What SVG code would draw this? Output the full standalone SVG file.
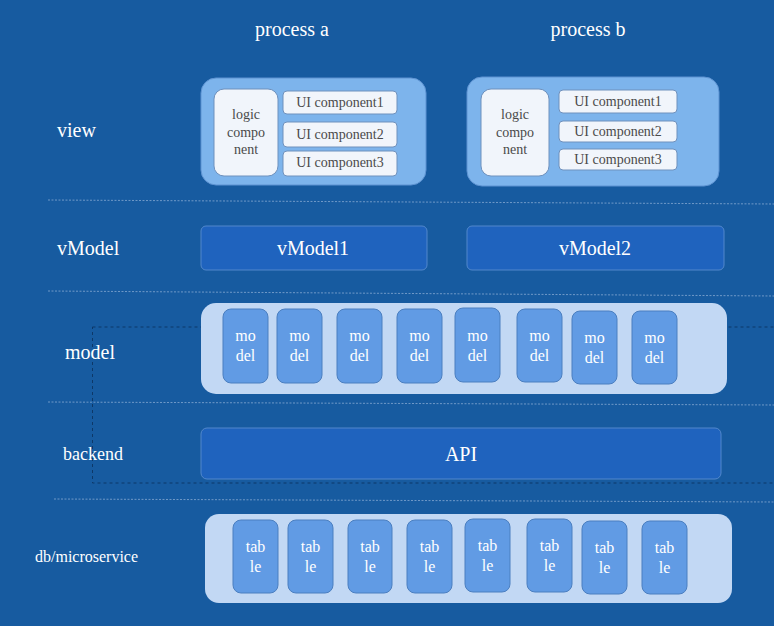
<svg xmlns="http://www.w3.org/2000/svg" width="774" height="626" viewBox="0 0 774 626">
<style>
text{font-family:'Liberation Serif','DejaVu Serif','Times New Roman',serif;}
.w{fill:#ffffff;}
.g{fill:#4a4a4a;font-size:14px;text-anchor:middle;}
.lbl{fill:#ffffff;font-size:20px;}
.sep{stroke:#86a9d2;stroke-width:1;stroke-dasharray:2,1.5;fill:none;opacity:0.8;}
.dk{stroke:#0d3868;stroke-width:1;stroke-dasharray:3,3;fill:none;}
.cont{fill:#7db4ec;stroke:#5e93d2;stroke-width:1;}
.logic{fill:#f1f5fb;stroke:#6f91bd;stroke-width:1;}
.ui{fill:#f1f5fb;stroke:#6f91bd;stroke-width:1;}
.vm{fill:#1f63be;stroke:#5288cc;stroke-width:1;}
.light{fill:#c2d8f4;}
.box{fill:#619be4;stroke:#4b7fc0;stroke-width:1;}
.bt{fill:#ffffff;font-size:16px;text-anchor:middle;}
</style>
<rect x="0" y="0" width="774" height="626" fill="#175ba0"/>
<g font-family="'Liberation Serif', 'DejaVu Serif', serif">

<g id="separators">
<line class="sep" x1="48" y1="200" x2="774" y2="204"/>
<line class="sep" x1="48" y1="291" x2="774" y2="296"/>
<line class="sep" x1="48" y1="402" x2="774" y2="405"/>
<line class="sep" x1="54" y1="499" x2="774" y2="502"/>
<rect class="dk" x="92.5" y="327" width="700" height="156"/>
</g>

<g id="titles">
<text class="lbl" x="292" y="36" text-anchor="middle">process a</text>
<text class="lbl" x="588" y="36" text-anchor="middle">process b</text>
</g>

<g id="row-labels">
<text class="lbl" x="57" y="137">view</text>
<text class="lbl" x="57" y="255">vModel</text>
<text class="lbl" x="65" y="359">model</text>
<text class="w" x="63" y="460" style="font-size:18px">backend</text>
<text class="w" x="35" y="562" style="font-size:16px">db/microservice</text>
</g>

<g id="view-a">
<rect class="cont" x="201" y="78" width="225" height="107" rx="15"/>
<rect class="logic" x="214" y="89" width="64" height="87" rx="10"/>
<text class="g" x="246" y="119">logic</text>
<text class="g" x="246" y="137">compo</text>
<text class="g" x="246" y="154">nent</text>
<rect class="ui" x="283" y="91" width="114" height="23" rx="4"/>
<text class="g" x="340" y="107">UI component1</text>
<rect class="ui" x="283" y="122" width="114" height="25" rx="4"/>
<text class="g" x="340" y="139">UI component2</text>
<rect class="ui" x="283" y="151" width="114" height="25" rx="4"/>
<text class="g" x="340" y="167">UI component3</text>
</g>

<g id="view-b">
<rect class="cont" x="467" y="77" width="252" height="109" rx="15"/>
<rect class="logic" x="481" y="89" width="68" height="87" rx="10"/>
<text class="g" x="515" y="119">logic</text>
<text class="g" x="515" y="137">compo</text>
<text class="g" x="515" y="154">nent</text>
<rect class="ui" x="559" y="90" width="118" height="23" rx="4"/>
<text class="g" x="618" y="106">UI component1</text>
<rect class="ui" x="559" y="121" width="118" height="21" rx="4"/>
<text class="g" x="618" y="136">UI component2</text>
<rect class="ui" x="559" y="149" width="118" height="21" rx="4"/>
<text class="g" x="618" y="164">UI component3</text>
</g>

<g id="vmodel1">
<rect class="vm" x="201" y="226" width="226" height="44" rx="5"/>
<text class="w" x="313" y="255" text-anchor="middle" style="font-size:20px">vModel1</text>
</g>
<g id="vmodel2">
<rect class="vm" x="467" y="226" width="257" height="44" rx="5"/>
<text class="w" x="595" y="255" text-anchor="middle" style="font-size:20px">vModel2</text>
</g>

<g id="model">
<rect class="light" x="201" y="303" width="526" height="91" rx="15"/>
<rect class="box" x="223" y="309" width="45" height="74" rx="8"/>
<text class="bt" x="245.5" y="341">mo</text><text class="bt" x="245.5" y="361">del</text>
<rect class="box" x="277" y="309" width="45" height="74" rx="8"/>
<text class="bt" x="299.5" y="341">mo</text><text class="bt" x="299.5" y="361">del</text>
<rect class="box" x="337" y="309" width="45" height="74" rx="8"/>
<text class="bt" x="359.5" y="341">mo</text><text class="bt" x="359.5" y="361">del</text>
<rect class="box" x="397" y="309" width="45" height="74" rx="8"/>
<text class="bt" x="419.5" y="341">mo</text><text class="bt" x="419.5" y="361">del</text>
<rect class="box" x="455" y="308" width="45" height="74" rx="8"/>
<text class="bt" x="477.5" y="341">mo</text><text class="bt" x="477.5" y="361">del</text>
<rect class="box" x="517" y="309" width="45" height="73" rx="8"/>
<text class="bt" x="539.5" y="341">mo</text><text class="bt" x="539.5" y="361">del</text>
<rect class="box" x="572" y="311" width="45" height="73" rx="8"/>
<text class="bt" x="594.5" y="343">mo</text><text class="bt" x="594.5" y="363">del</text>
<rect class="box" x="632" y="311" width="45" height="73" rx="8"/>
<text class="bt" x="654.5" y="343">mo</text><text class="bt" x="654.5" y="363">del</text>
</g>

<g id="api">
<rect class="vm" x="201" y="428" width="520" height="51" rx="6"/>
<text class="w" x="461" y="461" text-anchor="middle" style="font-size:20px">API</text>
</g>

<g id="db">
<rect class="light" x="205" y="514" width="527" height="89" rx="14"/>
<rect class="box" x="233" y="520" width="45" height="73" rx="8"/>
<text class="bt" x="255.5" y="552">tab</text><text class="bt" x="255.5" y="572">le</text>
<rect class="box" x="288" y="520" width="45" height="73" rx="8"/>
<text class="bt" x="310.5" y="552">tab</text><text class="bt" x="310.5" y="572">le</text>
<rect class="box" x="348" y="520" width="44" height="73" rx="8"/>
<text class="bt" x="370" y="552">tab</text><text class="bt" x="370" y="572">le</text>
<rect class="box" x="407" y="520" width="45" height="73" rx="8"/>
<text class="bt" x="429.5" y="552">tab</text><text class="bt" x="429.5" y="572">le</text>
<rect class="box" x="465" y="519" width="45" height="73" rx="8"/>
<text class="bt" x="487.5" y="551">tab</text><text class="bt" x="487.5" y="571">le</text>
<rect class="box" x="527" y="519" width="45" height="73" rx="8"/>
<text class="bt" x="549.5" y="551">tab</text><text class="bt" x="549.5" y="571">le</text>
<rect class="box" x="582" y="521" width="45" height="73" rx="8"/>
<text class="bt" x="604.5" y="553">tab</text><text class="bt" x="604.5" y="573">le</text>
<rect class="box" x="642" y="521" width="45" height="73" rx="8"/>
<text class="bt" x="664.5" y="553">tab</text><text class="bt" x="664.5" y="573">le</text>
</g>
</g>
</svg>
